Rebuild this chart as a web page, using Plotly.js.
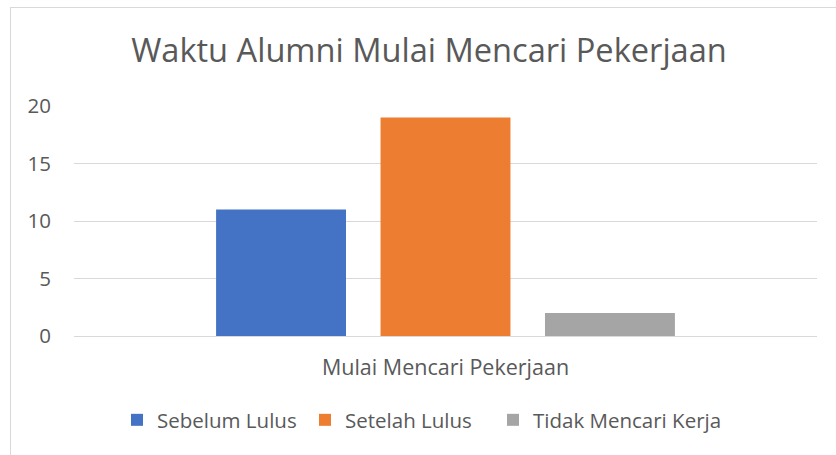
<!DOCTYPE html>
<html>
<head>
<meta charset="utf-8">
<script src="https://cdn.plot.ly/plotly-3.0.1.min.js"></script>
<style>
html,body{margin:0;padding:0;background:#fff;}
#frame{position:absolute;left:10px;top:7px;width:900px;height:500px;border-left:1px solid #d9d9d9;border-top:1px solid #d9d9d9;pointer-events:none;}
#chart{position:absolute;left:0;top:0;width:836px;height:455px;}
</style>
</head>
<body>
<div id="chart"></div>
<div id="frame"></div>
<script>
const categories = ["Mulai Mencari Pekerjaan"];
const seriesNames = ["Sebelum Lulus", "Setelah Lulus", "Tidak Mencari Kerja"];
const sebelumLulus = [11];
const setelahLulus = [19];
const tidakMencariKerja = [2];
const colors = ["#4472C4", "#ED7D31", "#A5A5A5"];
const yTicks = [0, 5, 10, 15, 20];

const seriesValues = [sebelumLulus, setelahLulus, tidakMencariKerja];
const font = "'Open Sans', sans-serif";
const textColor = "#595959";

const data = seriesNames.map((n, i) => ({
  type: "bar",
  name: n,
  x: categories,
  y: seriesValues[i],
  marker: {color: colors[i]},
  hoverinfo: "none"
}));

const layout = {
  width: 836, height: 455,
  margin: {l: 74, r: 19, t: 106, b: 119},
  paper_bgcolor: "#fff", plot_bgcolor: "#fff",
  barmode: "group", bargap: 0.336, bargroupgap: 0.21,
  title: {text: "Waktu Alumni Mulai Mencari Pekerjaan", font: {family: font, size: 32.6, color: textColor},
          x: (429 - 74) / 743, xanchor: "center", y: 1 - 51/455, yanchor: "middle", xref: "paper"},
  xaxis: {showgrid: false, showline: false, zeroline: false, ticks: "",
          tickfont: {family: font, size: 21.5, color: textColor}, ticklabelstandoff: 16, fixedrange: true},
  yaxis: {range: [0, 20], tickvals: yTicks, ticktext: yTicks.map(String), showgrid: true, gridcolor: "#d9d9d9", gridwidth: 1,
          zeroline: true, zerolinecolor: "#d9d9d9", zerolinewidth: 1, showline: false, ticks: "",
          tickfont: {family: font, size: 20.5, color: textColor}, ticklabelstandoff: 22, fixedrange: true},
  showlegend: true,
  legend: {orientation: "h", x: 43/743, xanchor: "left", y: -(420-336)/230, yanchor: "middle",
           entrywidth: 143, entrywidthmode: "pixels",
           font: {family: font, size: 20.5, color: textColor}, itemclick: false, traceorder: "normal"}
};

Plotly.newPlot("chart", data, layout, {displayModeBar: false, staticPlot: true}).then(gd => {
  gd.querySelectorAll(".legend [clip-path]").forEach(el => el.removeAttribute("clip-path"));
});
</script>
</body>
</html>
